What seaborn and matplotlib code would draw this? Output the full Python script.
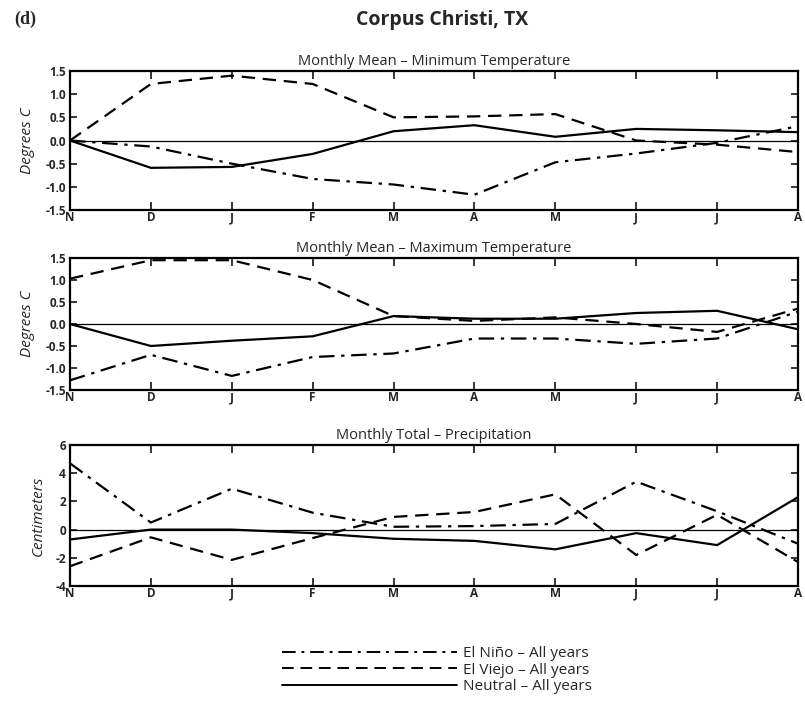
import matplotlib
matplotlib.use("Agg")
import matplotlib.pyplot as plt
import seaborn as sns
import pandas as pd
from matplotlib.lines import Line2D

months = ["N", "D", "J", "F", "M", "A", "M", "J", "J", "A"]
series_names = ["El Niño – All years", "El Viejo – All years", "Neutral – All years"]

# Monthly Mean – Minimum Temperature (deg C)
min_nino = [0.0, -0.13, -0.50, -0.83, -0.95, -1.17, -0.47, -0.28, -0.05, 0.31]
min_viejo = [0.0, 1.22, 1.40, 1.22, 0.50, 0.52, 0.57, 0.0, -0.09, -0.25]
min_neutral = [0.0, -0.59, -0.57, -0.29, 0.20, 0.33, 0.08, 0.25, 0.22, 0.18]

# Monthly Mean – Maximum Temperature (deg C)
max_nino = [-1.28, -0.70, -1.18, -0.75, -0.67, -0.33, -0.33, -0.45, -0.33, 0.28]
max_viejo = [1.03, 1.45, 1.45, 1.0, 0.18, 0.07, 0.15, 0.0, -0.18, 0.35]
max_neutral = [0.0, -0.50, -0.38, -0.28, 0.18, 0.12, 0.12, 0.25, 0.30, -0.12]

# Monthly Total – Precipitation (cm)
pr_nino = [4.7, 0.5, 2.9, 1.2, 0.2, 0.25, 0.4, 3.4, 1.3, -1.0]
pr_viejo = [-2.6, -0.55, -2.15, -0.6, 0.9, 1.25, 2.5, -1.8, 1.05, -2.3]
pr_neutral = [-0.7, 0.0, 0.0, -0.25, -0.65, -0.8, -1.4, -0.25, -1.1, 2.3]

panels = [
    ("Monthly Mean – Minimum Temperature", "Degrees C",
     [min_nino, min_viejo, min_neutral], (-1.5, 1.5),
     [1.5, 1.0, 0.5, 0.0, -0.5, -1.0, -1.5],
     ["1.5", "1.0", "0.5", "0.0", "-0.5", "-1.0", "-1.5"]),
    ("Monthly Mean – Maximum Temperature", "Degrees C",
     [max_nino, max_viejo, max_neutral], (-1.5, 1.5),
     [1.5, 1.0, 0.5, 0.0, -0.5, -1.0, -1.5],
     ["1.5", "1.0", "0.5", "0.0", "-0.5", "-1.0", "-1.5"]),
    ("Monthly Total – Precipitation", "Centimeters",
     [pr_nino, pr_viejo, pr_neutral], (-4, 6),
     [6, 4, 2, 0, -2, -4],
     ["6", "4", "2", "0", "-2", "-4"]),
]

sns.set_style("white")
plt.rcParams["font.family"] = ["Open Sans", "DejaVu Sans"]

dash_map = {
    series_names[0]: (7, 3, 1.5, 3),
    series_names[1]: (6, 3.5),
    series_names[2]: "",
}

fig = plt.figure(figsize=(8.05, 7.06), dpi=100)
W, H = 805.0, 706.0
boxes = [(71, 210), (258, 390), (445, 586)]
left, right = 70, 798

for (title, ylab, vals, ylim, yt, ytl), (top, bot) in zip(panels, boxes):
    ax = fig.add_axes([left / W, 1 - bot / H, (right - left) / W, (bot - top) / H])
    rows = []
    for name, v in zip(series_names, vals):
        for i, val in enumerate(v):
            rows.append({"pos": i, "value": val, "series": name})
    df = pd.DataFrame(rows)
    ax.axhline(0, color="black", lw=0.9, zorder=1)
    sns.lineplot(data=df, x="pos", y="value", style="series", dashes=dash_map,
                 color="black", linewidth=1.6, legend=False, ax=ax,
                 style_order=series_names)
    ax.set_xlim(0, 9)
    ax.set_ylim(*ylim)
    ax.set_xticks(range(len(months)))
    ax.set_xticklabels(months, fontsize=8.5, fontweight="bold")
    ax.set_yticks(yt)
    ax.set_yticklabels(ytl, fontsize=8.5, fontweight="bold")
    ax.tick_params(axis="x", direction="in", length=6, width=1.3, top=True,
                   bottom=True, pad=1)
    ax.tick_params(axis="y", direction="in", length=5, width=1.3, left=True,
                   right=True, pad=3)
    ax.set_xlabel("")
    ax.set_ylabel(ylab, fontsize=11, fontstyle="italic", labelpad=7)
    ax.set_title(title, fontsize=10.5, pad=4)
    for s in ax.spines.values():
        s.set_linewidth(1.6)
        s.set_color("black")

fig.text(442 / W, 1 - 20 / H, "Corpus Christi, TX", ha="center", va="center",
         fontsize=14, fontweight="bold")
fig.text(14 / W, 1 - 19 / H, "(d)", ha="left", va="center", fontsize=13,
         fontweight="bold", family="Liberation Serif")

handles = [Line2D([0], [0], color="black", lw=1.4,
                  dashes=dash_map[n] if dash_map[n] else (None, None),
                  linestyle="-") for n in series_names]
handles[2].set_linestyle("-")
leg = fig.legend(handles, series_names, loc="center", bbox_to_anchor=(437 / W, 1 - 670 / H),
                 frameon=False, fontsize=11, handlelength=11.5, handletextpad=0.4,
                 labelspacing=0.1)

fig.savefig("out.png", dpi=100)
